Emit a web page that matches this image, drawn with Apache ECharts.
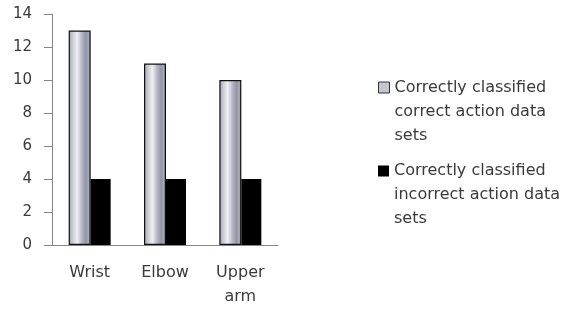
<!DOCTYPE html>
<html>
<head>
<meta charset="utf-8">
<script src="https://cdn.jsdelivr.net/npm/echarts@6/dist/echarts.min.js"></script>
<style>
    html, body { margin: 0; padding: 0; background: #fff; }
    #main { width: 566px; height: 309px; }
</style>
</head>
<body>
<div id="main"></div>
<script>
// categories and values
const categories = ['Wrist', 'Elbow', 'Upper\narm'];
const correctSets = [13, 11, 10];
const incorrectSets = [4, 4, 4];
const seriesNames = [
    'Correctly classified\ncorrect action data\nsets',
    'Correctly classified\nincorrect action data\nsets'
];

const textColor = '#3a3a3a';
const axisColor = '#868686';

// silver cylinder look
const silver = new echarts.graphic.LinearGradient(0, 0, 1, 0, [
    { offset: 0, color: '#9c9eac' },
    { offset: 0.15, color: '#c4c6cf' },
    { offset: 0.38, color: '#eef0f3' },
    { offset: 0.58, color: '#b9bbc9' },
    { offset: 0.78, color: '#9294a8' },
    { offset: 0.9, color: '#a9abb9' },
    { offset: 1, color: '#7e808e' }
]);

// legend: the icon sits at the first line, so pad the block with two empty lines on top
function legendAt(name, top, itemStyle) {
    return {
        orient: 'vertical',
        left: 378,
        top: top,
        padding: 0,
        icon: 'rect',
        itemWidth: 11,
        itemHeight: 11,
        formatter: n => '\n\n' + n,
        textStyle: { color: textColor, fontSize: 16, lineHeight: 24 },
        data: [{ name: name, itemStyle: itemStyle }]
    };
}

let chart = echarts.init(document.getElementById('main'));
let option = {
    animation: false,
    textStyle: { fontFamily: 'DejaVu Sans' },
    grid: { left: 52, right: 288, top: 14, bottom: 61 },
    legend: [
        legendAt(seriesNames[0], 87.5 - 60, { color: '#c4c6ce', borderColor: '#333', borderWidth: 1 }),
        legendAt(seriesNames[1], 171 - 60, { color: '#000' })
    ],
    xAxis: {
        type: 'category',
        data: categories,
        axisLine: { lineStyle: { color: axisColor } },
        axisTick: { length: 5, lineStyle: { color: axisColor } },
        axisLabel: { color: textColor, fontSize: 16, lineHeight: 24, margin: 16 }
    },
    yAxis: {
        type: 'value',
        min: 0,
        max: 14,
        interval: 2,
        splitLine: { show: false },
        axisLine: { show: true, lineStyle: { color: axisColor } },
        axisTick: { show: true, length: 8, lineStyle: { color: axisColor } },
        axisLabel: { color: textColor, fontSize: 15, margin: 20 }
    },
    series: [
        {
            name: seriesNames[0],
            type: 'bar',
            data: correctSets,
            barWidth: 22,
            barGap: '0%',
            itemStyle: { color: silver, borderColor: '#111', borderWidth: 1.2 }
        },
        {
            name: seriesNames[1],
            type: 'bar',
            data: incorrectSets,
            barWidth: 20,
            itemStyle: { color: '#000' }
        }
    ]
};
chart.setOption(option);
</script>
</body>
</html>
